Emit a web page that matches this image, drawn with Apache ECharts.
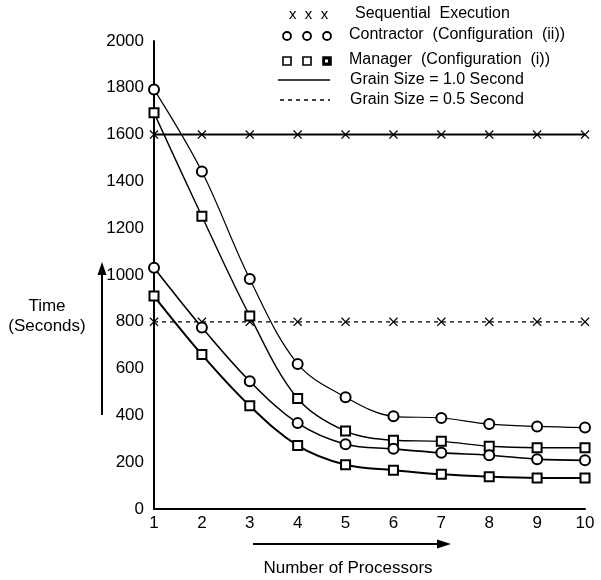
<!DOCTYPE html>
<html>
<head>
<meta charset="utf-8">
<script src="https://cdn.jsdelivr.net/npm/echarts@6/dist/echarts.min.js"></script>
<style>
html,body{margin:0;padding:0;background:#fff;}
#chart{width:601px;height:580px;}
</style>
</head>
<body>
<div id="chart"></div>
<script>
// processors on the x axis
var processors = [1, 2, 3, 4, 5, 6, 7, 8, 9, 10];
var yTicks = [0, 200, 400, 600, 800, 1000, 1200, 1400, 1600, 1800, 2000];
// sequential execution, one per grain size
var seqGrain10 = [1600, 1600, 1600, 1600, 1600, 1600, 1600, 1600, 1600, 1600];
var seqGrain05 = [800, 800, 800, 800, 800, 800, 800, 800, 800, 800];
// contractor (configuration ii)
var contractorGrain10 = [1793, 1442, 983, 620, 478, 396, 389, 363, 353, 348];
var contractorGrain05 = [1031, 776, 546, 367, 277, 257, 240, 230, 213, 208];
// manager (configuration i)
var managerGrain10 = [1693, 1251, 825, 472, 333, 294, 289, 268, 262, 262];
var managerGrain05 = [910, 660, 441, 271, 189, 166, 148, 138, 133, 133];

var FONT = '"Liberation Sans", Arial, sans-serif';
var crossPath = 'path://M0,1L1,0L5,4L9,0L10,1L6,5L10,9L9,10L5,6L1,10L0,9L4,5Z';

function pairs(vals) {
	var out = [];
	for (var i = 0; i < processors.length; i++) {
		out.push([processors[i], vals[i]]);
	}
	return out;
}

function curve(name, vals, symbol, size, width, dashed, smooth) {
	var isCross = symbol == crossPath;
	return {
		name: name,
		type: 'line',
		data: pairs(vals),
		smooth: smooth,
		symbol: symbol,
		symbolSize: size,
		showAllSymbol: true,
		lineStyle: { color: '#000', width: width, type: dashed ? [4, 4] : 'solid' },
		itemStyle: { color: '#000', borderColor: '#000', borderWidth: isCross ? 0 : 1.5 },
		emphasis: { disabled: true },
		z: isCross ? 3 : 4
	};
}

var chart = echarts.init(document.getElementById('chart'));

var legendX = [287, 307, 327];
var graphics = [];
// legend texts
var legendRows = [
	{ y: 15, x: 355, text: 'Sequential  Execution' },
	{ y: 36, x: 349, text: 'Contractor  (Configuration  (ii))' },
	{ y: 61, x: 349, text: 'Manager  (Configuration  (i))' },
	{ y: 81, x: 350, text: 'Grain Size = 1.0 Second' },
	{ y: 101, x: 350, text: 'Grain Size = 0.5 Second' }
];
legendRows.forEach(function(r) {
	graphics.push({ type: 'text', left: r.x, top: r.y - 9,
		style: { text: r.text, fontSize: 16, fontFamily: FONT, fill: '#000' } });
});
graphics.push({ type: 'text', left: 289, top: 7,
	style: { text: 'x  x  x', fontSize: 15, fontFamily: FONT, fill: '#000' } });
legendX.forEach(function(x, i) {
	graphics.push({ type: 'circle', shape: { cx: x, cy: 36, r: 4 },
		style: { fill: '#fff', stroke: '#000', lineWidth: 1.8 } });
	graphics.push({ type: 'rect', shape: { x: x - 4, y: 57, width: 8, height: 8 },
		style: { fill: i == 2 ? '#000' : '#fff', stroke: '#000', lineWidth: 1.6 } });
});
graphics.push({ type: 'rect', shape: { x: 325, y: 59.5, width: 3, height: 3 }, style: { fill: '#fff' } });
graphics.push({ type: 'line', shape: { x1: 278, y1: 80, x2: 330, y2: 80 }, style: { stroke: '#000', lineWidth: 1.3 } });
graphics.push({ type: 'line', shape: { x1: 280, y1: 100, x2: 330, y2: 100 }, style: { stroke: '#000', lineWidth: 1.3, lineDash: [4, 4] } });

// axis names and arrows
graphics.push({ type: 'text', x: 47, y: 306,
	style: { text: 'Time', fontSize: 17, fontFamily: FONT, fill: '#000', align: 'center', verticalAlign: 'middle' } });
graphics.push({ type: 'text', x: 47, y: 326,
	style: { text: '(Seconds)', fontSize: 17, fontFamily: FONT, fill: '#000', align: 'center', verticalAlign: 'middle' } });
graphics.push({ type: 'line', shape: { x1: 102, y1: 272, x2: 102, y2: 415 }, style: { stroke: '#000', lineWidth: 2 } });
graphics.push({ type: 'polygon', shape: { points: [[102, 262], [97.5, 275], [106.5, 275]] }, style: { fill: '#000' } });
graphics.push({ type: 'line', shape: { x1: 253, y1: 544, x2: 440, y2: 544 }, style: { stroke: '#000', lineWidth: 2 } });
graphics.push({ type: 'polygon', shape: { points: [[451, 544], [437, 539.5], [437, 548.5]] }, style: { fill: '#000' } });
graphics.push({ type: 'text', x: 348, y: 568,
	style: { text: 'Number of Processors', fontSize: 17, fontFamily: FONT, fill: '#000', align: 'center', verticalAlign: 'middle' } });

var option = {
	backgroundColor: '#fff',
	animation: false,
	grid: { left: 154, right: 16, top: 41, bottom: 71 },
	xAxis: {
		type: 'value',
		min: 1,
		max: 10,
		interval: 1,
		axisLine: { show: true, lineStyle: { color: '#000', width: 2 } },
		axisTick: { show: false },
		splitLine: { show: false },
		axisLabel: { color: '#000', fontSize: 17, fontFamily: FONT, margin: 6 }
	},
	yAxis: {
		type: 'value',
		min: yTicks[0],
		max: yTicks[yTicks.length - 1],
		interval: yTicks[1] - yTicks[0],
		axisLine: { show: true, lineStyle: { color: '#000', width: 2 } },
		axisTick: { show: false },
		splitLine: { show: false },
		axisLabel: { color: '#000', fontSize: 17, fontFamily: FONT, margin: 10,
			formatter: function(v) { return String(v); } }
	},
	graphic: graphics,
	series: [
		curve('Sequential 1.0', seqGrain10, crossPath, 9, 2, false, false),
		curve('Sequential 0.5', seqGrain05, crossPath, 9, 1.2, true, false),
		curve('Contractor 1.0', contractorGrain10, 'emptyCircle', 10, 1.2, false, 0.35),
		curve('Manager 1.0', managerGrain10, 'emptyRect', 9, 1.4, false, 0.35),
		curve('Contractor 0.5', contractorGrain05, 'emptyCircle', 10, 1.6, false, 0.35),
		curve('Manager 0.5', managerGrain05, 'emptyRect', 9, 2, false, 0.35)
	]
};
chart.setOption(option);
</script>
</body>
</html>
